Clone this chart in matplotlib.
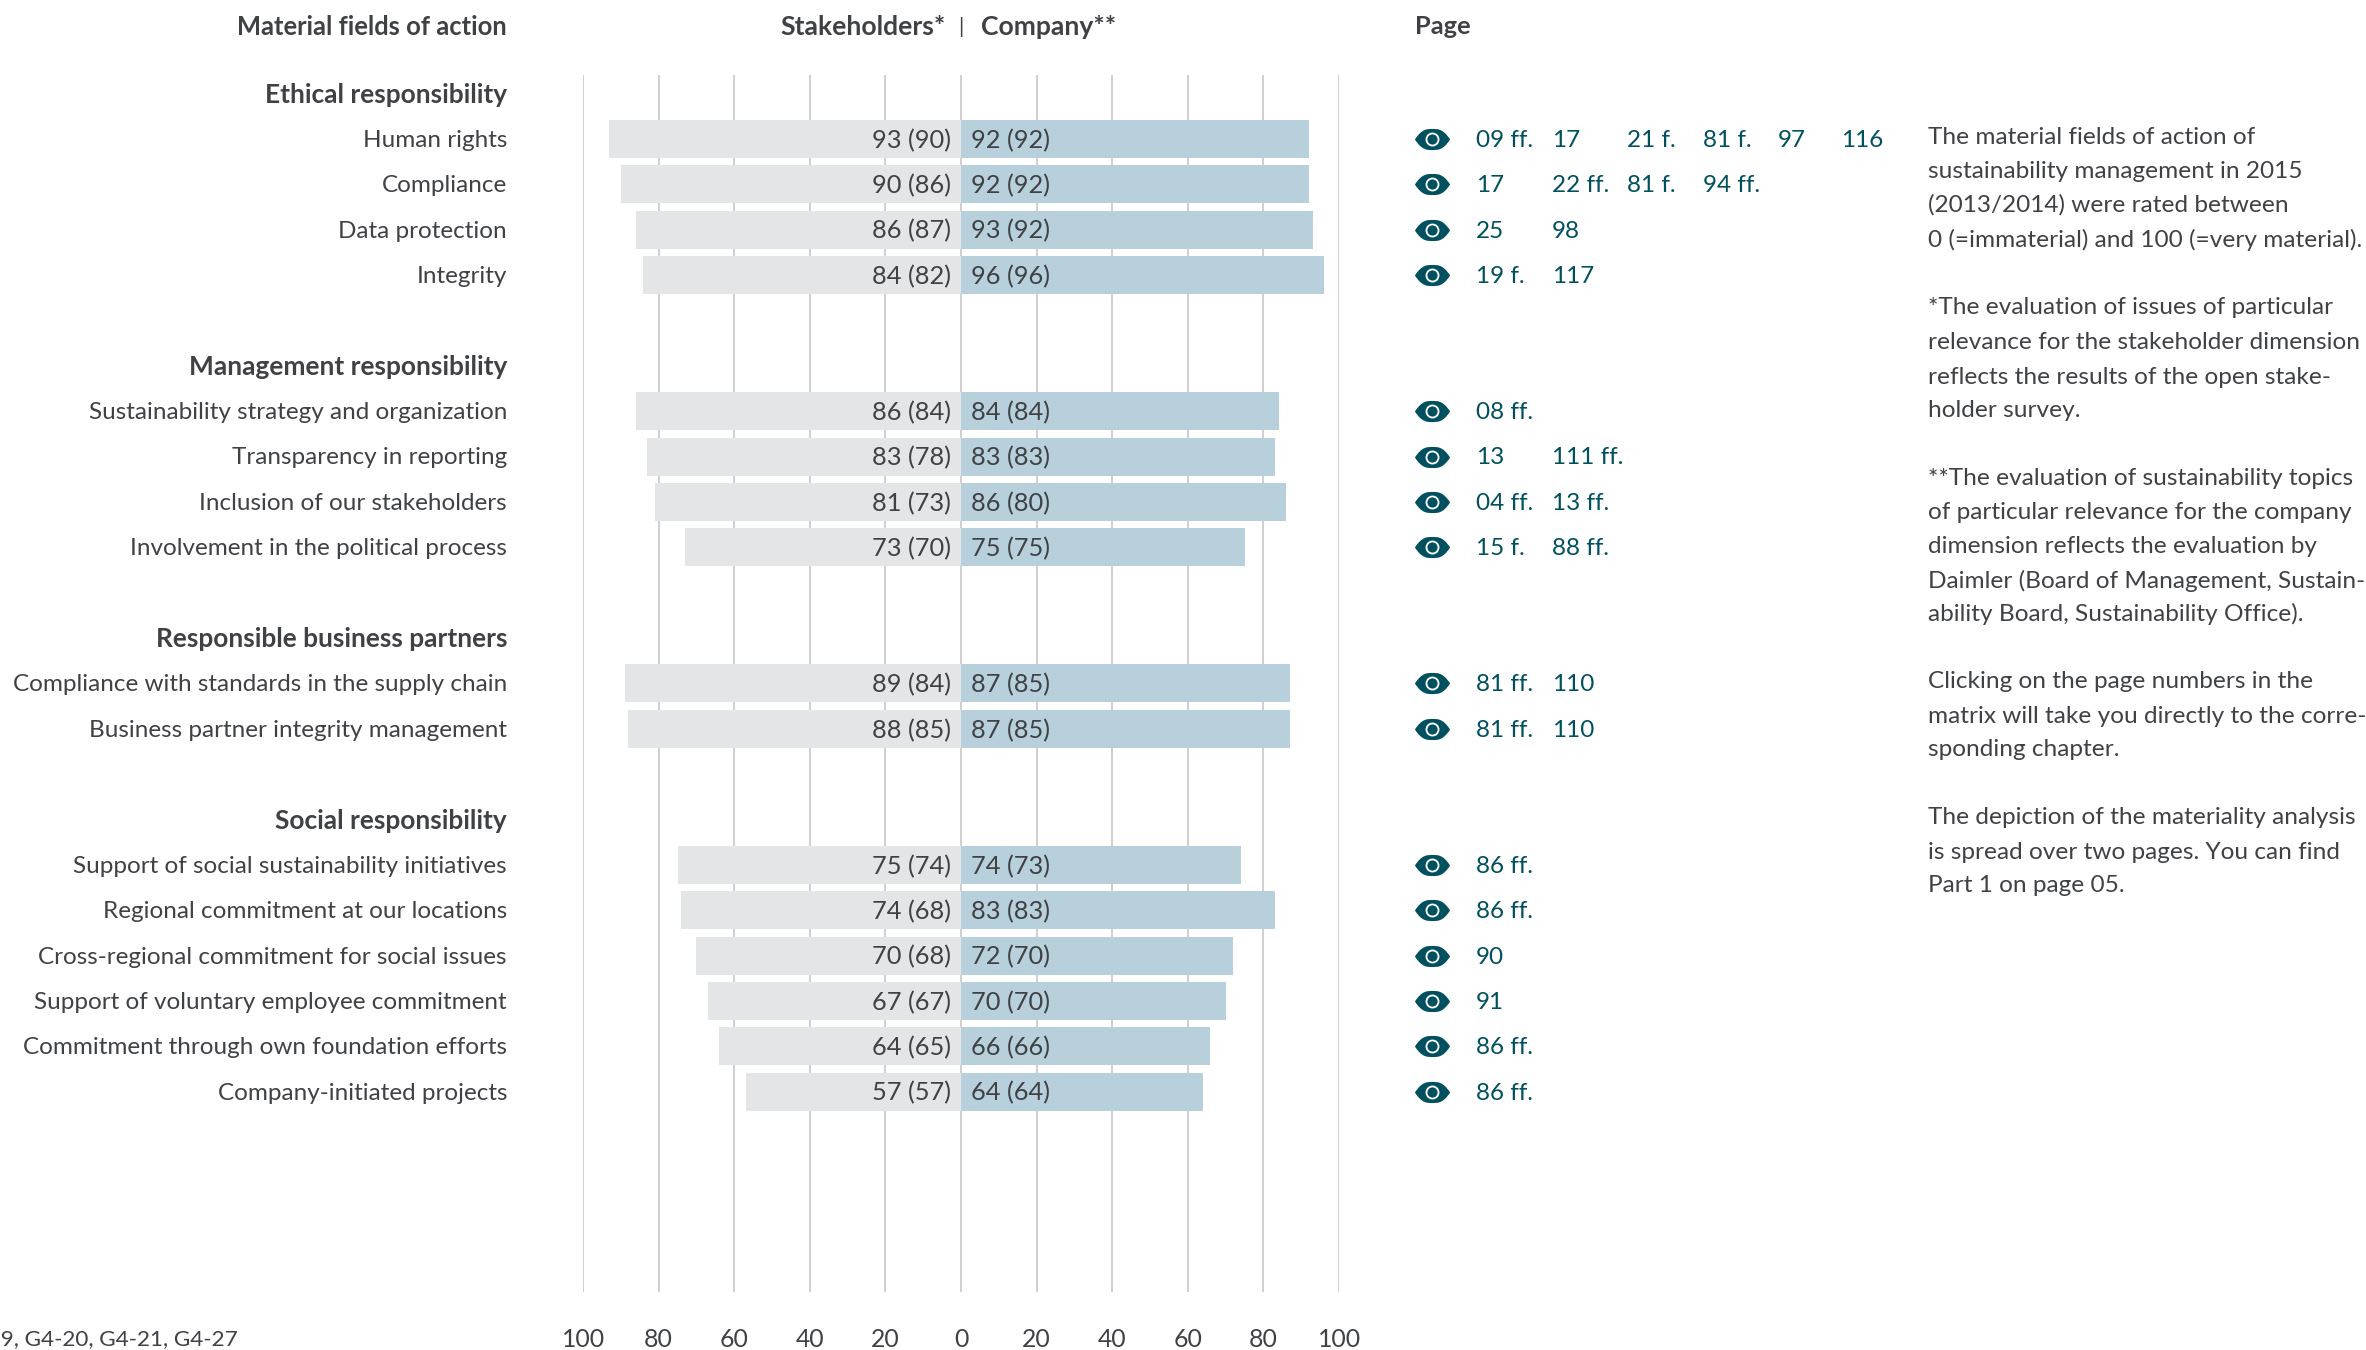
import matplotlib
matplotlib.use("Agg")
import matplotlib.pyplot as plt
from matplotlib.path import Path
from matplotlib.transforms import blended_transform_factory

W, H = 2366, 1350

# Group headings sit on the empty rows between the blocks of bars.
group_rows = {-1: "Ethical responsibility", 5: "Management responsibility",
              11: "Responsible business partners", 15: "Social responsibility"}

row_positions = [0, 1, 2, 3, 6, 7, 8, 9, 12, 13, 16, 17, 18, 19, 20, 21]

fields = ["Human rights", "Compliance", "Data protection", "Integrity",
          "Sustainability strategy and organization", "Transparency in reporting",
          "Inclusion of our stakeholders", "Involvement in the political process",
          "Compliance with standards in the supply chain",
          "Business partner integrity management",
          "Support of social sustainability initiatives",
          "Regional commitment at our locations",
          "Cross-regional commitment for social issues",
          "Support of voluntary employee commitment",
          "Commitment through own foundation efforts",
          "Company-initiated projects"]

stakeholders = [93, 90, 86, 84, 86, 83, 81, 73, 89, 88, 75, 74, 70, 67, 64, 57]
stakeholders_prev = [90, 86, 87, 82, 84, 78, 73, 70, 84, 85, 74, 68, 68, 67, 65, 57]
company = [92, 92, 93, 96, 84, 83, 86, 75, 87, 87, 74, 83, 72, 70, 66, 64]
company_prev = [92, 92, 92, 96, 84, 83, 80, 75, 85, 85, 73, 83, 70, 70, 66, 64]

pages = [["09 ff.", "17", "21 f.", "81 f.", "97", "116"],
         ["17", "22 ff.", "81 f.", "94 ff."],
         ["25", "98"],
         ["19 f.", "117"],
         ["08 ff."],
         ["13", "111 ff."],
         ["04 ff.", "13 ff."],
         ["15 f.", "88 ff."],
         ["81 ff.", "110"],
         ["81 ff.", "110"],
         ["86 ff."], ["86 ff."], ["90"], ["91"], ["86 ff."], ["86 ff."]]

axis_ticks = [-100, -80, -60, -40, -20, 0, 20, 40, 60, 80, 100]

side_notes = [
    (90, "The material fields of action of"),
    (113, "sustainability management in 2015"),
    (135, "(2013/2014) were rated between"),
    (158, "0 (=immaterial) and 100 (=very material)."),
    (203, "*The evaluation of issues of particular"),
    (226, "relevance for the stakeholder dimension"),
    (249, "reflects the results of the open stake-"),
    (271, "holder survey."),
    (316, "**The evaluation of sustainability topics"),
    (339, "of particular relevance for the company"),
    (361, "dimension reflects the evaluation by"),
    (384, "Daimler (Board of Management, Sustain-"),
    (406, "ability Board, Sustainability Office)."),
    (451, "Clicking on the page numbers in the"),
    (474, "matrix will take you directly to the corre-"),
    (496, "sponding chapter."),
    (541, "The depiction of the materiality analysis"),
    (564, "is spread over two pages. You can find"),
    (586, "Part 1 on page 05."),
]

TEXT = "#3f4144"
TEAL = "#00505f"
GREY_BAR = "#e4e5e7"
BLUE_BAR = "#b7d0db"
GRID = "#cbcccd"
FONT = "Lato"
SIZE = 18.3
LABEL_SIZE = 17.5
NOTE_SIZE = 17.6
BOLD_SIZE = 18.9

plt.rcParams["font.family"] = [FONT, "DejaVu Sans"]


def fx(px):
    return px / W


def fy(py):
    return 1 - py / H


fig = plt.figure(figsize=(W / 100, H / 100), dpi=100, facecolor="white")

# Axes span the plotted scale; rows are measured downward from the first bar.
pitch = 45.37
y0 = 139.0
top, bottom = 75, 1292
text_nudge = 0.03
ax = fig.add_axes([fx(583), fy(bottom), fx(1339) - fx(583), (bottom - top) / H])
ax.set_xlim(-100, 100)
ax.set_ylim((bottom - y0) / pitch, (top - y0) / pitch)
for s in ax.spines.values():
    s.set_visible(False)
ax.set_yticks([])
ax.set_xticks(axis_ticks)
ax.set_xticklabels([str(abs(t)) for t in axis_ticks], fontsize=17.8, color=TEXT)
ax.tick_params(axis="x", length=0, pad=26)
ax.grid(axis="x", color=GRID, linewidth=1.3)
ax.set_axisbelow(True)

bar_h = 38 / pitch
ax.barh(row_positions, [-v for v in stakeholders], height=bar_h, color=GREY_BAR, linewidth=0, zorder=2)
ax.barh(row_positions, company, height=bar_h, color=BLUE_BAR, linewidth=0, zorder=2)

to_label = blended_transform_factory(fig.transFigure, ax.transData)

# Value labels and field names, one row at a time.
for r, name, s, sp, c, cp in zip(row_positions, fields, stakeholders, stakeholders_prev, company, company_prev):
    ty = r + text_nudge
    ax.text(-2.6, ty, f"{s} ({sp})", ha="right", va="center", fontsize=SIZE, color=TEXT, zorder=3)
    ax.text(2.6, ty, f"{c} ({cp})", ha="left", va="center", fontsize=SIZE, color=TEXT, zorder=3)
    ax.text(fx(507), ty, name, transform=to_label, ha="right", va="center",
            fontsize=LABEL_SIZE, color=TEXT, clip_on=False)

for r, name in group_rows.items():
    ax.text(fx(507), r + text_nudge, name, transform=to_label, ha="right", va="center",
            fontsize=BOLD_SIZE, color=TEXT, fontweight="bold", clip_on=False)

# Eye symbol: lens outline with a ring cut out around the pupil.
lens = Path(
    [(-1, 0), (-0.6, 0.62), (-0.3, 0.6), (0, 0.6), (0.3, 0.6), (0.6, 0.62), (1, 0),
     (0.6, -0.62), (0.3, -0.6), (0, -0.6), (-0.3, -0.6), (-0.6, -0.62), (-1, 0), (-1, 0)],
    [Path.MOVETO, Path.CURVE4, Path.CURVE4, Path.CURVE4, Path.CURVE4, Path.CURVE4, Path.CURVE4,
     Path.CURVE4, Path.CURVE4, Path.CURVE4, Path.CURVE4, Path.CURVE4, Path.CURVE4, Path.CLOSEPOLY])
icon_x = fx(1432)
column_x = [1476, 1552, 1627, 1703, 1778, 1841]
for r, entries in zip(row_positions, pages):
    ax.scatter([icon_x], [r], transform=to_label, marker=lens, s=640, color=TEAL,
               linewidth=0, clip_on=False, zorder=3)
    ax.scatter([icon_x], [r], transform=to_label, marker="o", s=100, color="white",
               linewidth=0, clip_on=False, zorder=4)
    ax.scatter([icon_x], [r], transform=to_label, marker="o", s=54, color=TEAL,
               linewidth=0, clip_on=False, zorder=5)
    for cx, entry in zip(column_x, entries):
        ax.text(fx(cx), r + text_nudge, entry, transform=to_label, ha="left", va="center",
                fontsize=LABEL_SIZE, color=TEAL, clip_on=False)

# Column headings.
head_y = fy(27)
fig.text(fx(507), head_y, "Material fields of action", ha="right", va="center",
         fontsize=18.4, color=TEXT, fontweight="bold")
fig.text(fx(946), head_y, "Stakeholders*", ha="right", va="center", fontsize=19.1, color=TEXT, fontweight="bold")
fig.text(fx(961), head_y, "|", ha="center", va="center", fontsize=SIZE - 3, color=TEXT)
fig.text(fx(981), head_y, "Company**", ha="left", va="center", fontsize=19.1, color=TEXT, fontweight="bold")
fig.text(fx(1415), head_y, "Page", ha="left", va="center", fontsize=18.3, color=TEXT, fontweight="bold")

# Explanatory notes in the right margin.
for sy, line in side_notes:
    fig.text(fx(1928), fy(sy * H / 895 + 1.5), line, ha="left", va="center", fontsize=NOTE_SIZE, color=TEXT)

# GRI reference, running off the left edge.
fig.text(fx(238), fy(1339), "G4-19, G4-20, G4-21, G4-27", ha="right", va="center",
         fontsize=16.2, color=TEXT)

fig.savefig("out.png", dpi=100, facecolor="white")
